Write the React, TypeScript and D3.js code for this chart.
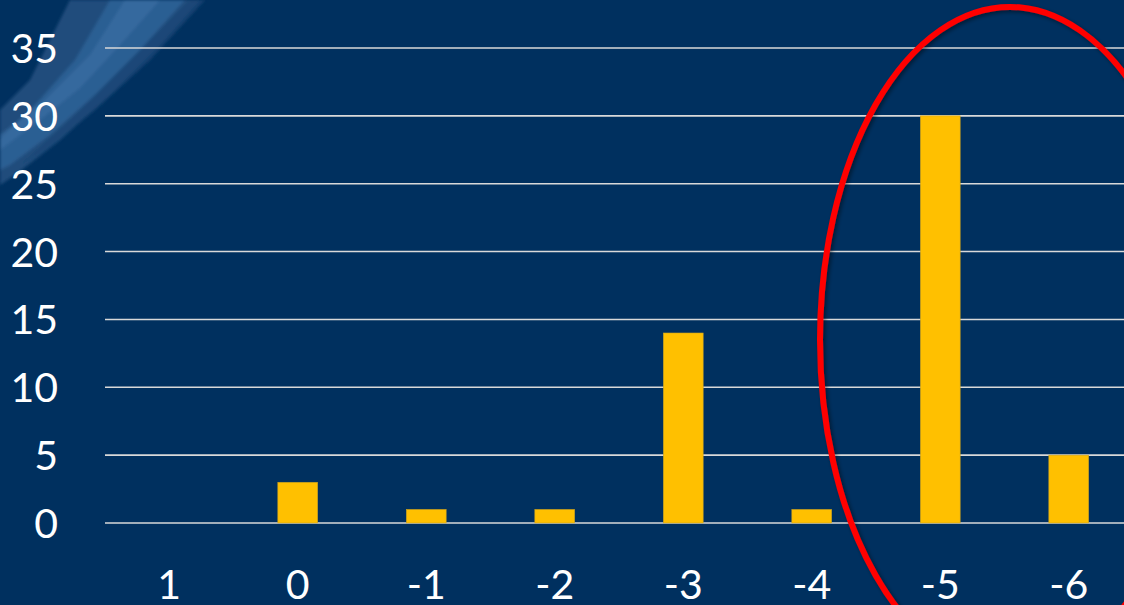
import React from "react";
import * as d3 from "d3";

const categories = ["1", "0", "-1", "-2", "-3", "-4", "-5", "-6"];
const values = [0, 3, 1, 1, 14, 1, 30, 5];
const yTicks = [0, 5, 10, 15, 20, 25, 30, 35];

const W = 1124;
const H = 605;

export default function App() {
  const left = 105;
  const step = 128.5;
  const x = d3
    .scaleBand<string>()
    .domain(categories)
    .range([left, left + step * categories.length])
    .paddingInner(0.69)
    .paddingOuter(0.345);
  const y = d3.scaleLinear().domain([0, 35]).range([523, 48]);
  const font = "Lato, 'Open Sans', 'DejaVu Sans', sans-serif";
  const bw = x.bandwidth();

  return (
    <svg
      width={W}
      height={H}
      style={{ position: "absolute", left: 0, top: 0, display: "block" }}
    >
      <defs>
        <filter id="sh" x="-10%" y="-10%" width="120%" height="120%">
          <feGaussianBlur in="SourceAlpha" stdDeviation="2" />
          <feOffset dx="2" dy="2" result="b" />
          <feComponentTransfer>
            <feFuncA type="linear" slope="0.45" />
          </feComponentTransfer>
          <feMerge>
            <feMergeNode />
            <feMergeNode in="SourceGraphic" />
          </feMerge>
        </filter>
        <filter id="blur1">
          <feGaussianBlur stdDeviation="1.5" />
        </filter>
      </defs>
      <rect x={0} y={0} width={W} height={H} fill="#00305F" />
      {/* decorative brush strokes */}
      <g filter="url(#blur1)">
        <path d="M70,0 L200,0 L160,45 L110,95 L60,140 L15,175 L0,185 L0,110 L30,80 Z" fill="#21507F" opacity={0.9} />
        <path d="M110,0 L185,0 L140,50 L95,95 L50,135 L10,165 L0,170 L0,140 L35,105 L75,60 Z" fill="#2E6096" opacity={0.9} />
        <path d="M125,0 L160,0 L120,45 L80,88 L40,120 L0,150 L0,135 L45,100 L90,55 Z" fill="#3A6EA4" opacity={0.7} />
        <path d="M190,0 L205,0 L150,60 L95,110 L45,150 L20,165 L70,120 L130,60 Z" fill="#1A4677" opacity={0.8} />
      </g>
      {/* gridlines */}
      {yTicks.map((t) => (
        <line
          key={t}
          x1={left}
          x2={W}
          y1={y(t)}
          y2={y(t)}
          stroke="#D9D9D9"
          strokeWidth={1.6}
        />
      ))}
      {/* bars */}
      {categories.map((c, i) =>
        values[i] > 0 ? (
          <rect
            key={c}
            x={x(c)}
            y={y(values[i])}
            width={bw}
            height={y(0) - y(values[i])}
            fill="#FFC000"
            stroke="#C9A020"
            strokeWidth={0.6}
          />
        ) : null
      )}
      {/* y labels */}
      {yTicks.map((t) => (
        <text
          key={t}
          x={58}
          y={y(t) + 15}
          textAnchor="end"
          fill="#FFFFFF"
          fontFamily={font}
          fontSize={41}
        >
          {t}
        </text>
      ))}
      {/* x labels */}
      {categories.map((c) => (
        <text
          key={c}
          x={(x(c) as number) + bw / 2}
          y={599}
          textAnchor="middle"
          fill="#FFFFFF"
          fontFamily={font}
          fontSize={41}
        >
          {c}
        </text>
      ))}
      {/* red ellipse */}
      <ellipse
        cx={1010}
        cy={340}
        rx={190}
        ry={333}
        fill="none"
        stroke="#FF0000"
        strokeWidth={6}
        filter="url(#sh)"
      />
    </svg>
  );
}
